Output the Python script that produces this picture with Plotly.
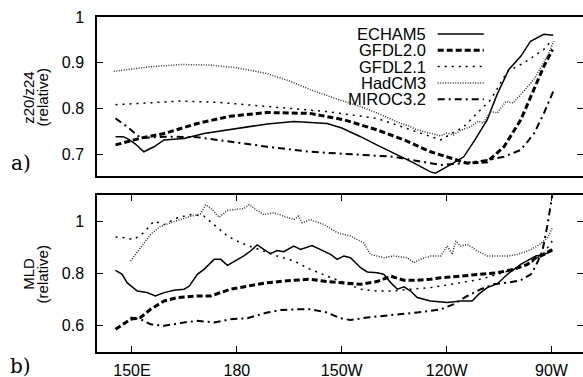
import plotly.graph_objects as go

# ---------------- data (longitude in degrees east, 0-360) ----------------
series_names = ["ECHAM5", "GFDL2.0", "GFDL2.1", "HadCM3", "MIROC3.2"]

# panel a) z20/z24 (relative)
echam5_a_lon = [145.3, 147.5, 149.1, 151.0, 153.4, 156.3, 159.2, 162.0, 164.9, 170.6, 175.0, 180.2,
                188.7, 196.3, 205.8, 210.0, 215.4, 220.0, 224.9, 230.0, 235.4, 236.8, 240.0, 244.9,
                248.0, 251.6, 254.4, 257.8, 261.2, 264.0, 267.8, 270.5]
echam5_a_val = [0.738, 0.738, 0.732, 0.722, 0.705, 0.716, 0.731, 0.733, 0.734, 0.745, 0.750, 0.756,
                0.766, 0.771, 0.767, 0.757, 0.738, 0.720, 0.702, 0.683, 0.661, 0.658, 0.672, 0.694,
                0.730, 0.775, 0.830, 0.885, 0.914, 0.947, 0.962, 0.960]

gfdl20_a_lon = [145.3, 152.5, 159.2, 168.7, 178.2, 188.7, 201.0, 210.6, 220.1, 227.8, 235.4, 242.0,
                245.9, 251.6, 256.4, 261.2, 266.0, 267.8, 270.3]
gfdl20_a_val = [0.720, 0.735, 0.745, 0.767, 0.783, 0.791, 0.789, 0.775, 0.753, 0.731, 0.705, 0.690,
                0.680, 0.683, 0.716, 0.775, 0.863, 0.892, 0.929]

gfdl21_a_lon = [145.3, 155.0, 163.9, 175.0, 188.7, 205.8, 220.1, 229.7, 238.3, 244.9, 252.6, 257.4,
                262.0, 267.8, 269.8]
gfdl21_a_val = [0.808, 0.812, 0.816, 0.813, 0.804, 0.793, 0.778, 0.753, 0.731, 0.760, 0.819, 0.881,
                0.899, 0.929, 0.947]

hadcm3_a_lon = [144.8, 150.0, 155.0, 163.8, 172.0, 180.0, 188.7, 195.0, 201.0, 208.0, 215.4, 221.0,
                226.8, 229.0, 231.0, 233.0, 235.4, 238.3, 240.0, 242.0, 244.0, 246.9, 249.0, 250.5,
                252.6, 254.5, 256.9, 259.0, 261.2, 264.9, 268.8, 270.6]
hadcm3_a_val = [0.881, 0.886, 0.891, 0.896, 0.895, 0.889, 0.876, 0.860, 0.841, 0.822, 0.804, 0.787,
                0.767, 0.762, 0.755, 0.750, 0.745, 0.740, 0.746, 0.742, 0.752, 0.760, 0.772, 0.768,
                0.793, 0.790, 0.815, 0.812, 0.830, 0.863, 0.914, 0.947]

miroc_a_lon = [145.3, 148.6, 152.5, 159.2, 168.7, 178.2, 188.7, 201.0, 215.4, 224.9, 235.4, 238.3,
               244.9, 251.6, 256.4, 261.2, 265.0, 267.8, 270.7]
miroc_a_val = [0.778, 0.760, 0.735, 0.738, 0.737, 0.727, 0.716, 0.705, 0.698, 0.694, 0.680, 0.676,
               0.680, 0.687, 0.694, 0.709, 0.745, 0.789, 0.841]

# panel b) MLD (relative)
echam5_b_lon = [145.3, 147.2, 148.6, 151.5, 154.3, 156.7, 159.2, 162.0, 164.9, 166.4, 168.7, 170.6,
                173.5, 175.4, 177.3, 180.1, 182.0, 183.9, 185.8, 187.7, 189.6, 191.5, 193.4, 196.3,
                198.2, 201.5, 203.9, 206.8, 208.7, 210.6, 212.5, 215.4, 217.3, 220.1, 222.0, 224.0,
                225.9, 227.8, 229.7, 231.6, 235.4, 240.2, 244.0, 247.3, 249.2, 251.6, 254.5, 257.4,
                261.2, 263.1, 265.5, 267.9, 270.2]
echam5_b_val = [0.812, 0.797, 0.765, 0.733, 0.727, 0.714, 0.727, 0.736, 0.740, 0.752, 0.797, 0.816,
                0.854, 0.854, 0.831, 0.854, 0.867, 0.886, 0.909, 0.892, 0.876, 0.888, 0.883, 0.905,
                0.892, 0.907, 0.892, 0.873, 0.854, 0.867, 0.860, 0.822, 0.806, 0.803, 0.797, 0.765,
                0.740, 0.749, 0.733, 0.708, 0.695, 0.689, 0.695, 0.695, 0.721, 0.746, 0.761, 0.797,
                0.835, 0.848, 0.867, 0.873, 0.886]

gfdl20_b_lon = [145.3, 149.6, 152.5, 155.3, 159.2, 163.0, 168.7, 172.5, 178.2, 183.0, 188.7, 196.3,
                201.0, 205.8, 210.6, 215.4, 220.1, 224.0, 227.8, 231.6, 235.4, 238.3, 244.0, 249.8,
                254.5, 259.3, 263.1, 265.5, 267.9, 270.2]
gfdl20_b_val = [0.587, 0.625, 0.632, 0.663, 0.695, 0.708, 0.714, 0.714, 0.740, 0.752, 0.765, 0.774,
                0.778, 0.769, 0.765, 0.759, 0.769, 0.790, 0.774, 0.774, 0.778, 0.784, 0.790, 0.797,
                0.803, 0.816, 0.835, 0.860, 0.873, 0.892]

gfdl21_b_lon = [145.3, 147.7, 150.5, 153.4, 156.3, 159.2, 163.0, 166.8, 170.6, 173.5, 177.3, 181.1,
                184.9, 188.7, 191.5, 196.3, 201.0, 205.8, 210.6, 215.4, 220.1, 224.9, 229.7, 235.4,
                238.3, 244.0, 249.8, 254.5, 259.3, 264.1, 267.9, 270.2]
gfdl21_b_val = [0.939, 0.937, 0.930, 0.956, 1.000, 0.987, 1.013, 1.025, 1.019, 0.987, 0.943, 0.917,
                0.898, 0.879, 0.867, 0.848, 0.816, 0.790, 0.765, 0.740, 0.733, 0.733, 0.740, 0.746,
                0.752, 0.765, 0.778, 0.797, 0.816, 0.841, 0.879, 0.924]

hadcm3_b_lon = [149.6, 152.5, 155.3, 158.2, 161.1, 163.9, 166.8, 169.6, 171.1, 173.0, 174.9, 177.3,
                180.1, 182.0, 183.5, 185.4, 187.7, 190.5, 193.4, 196.3, 197.7, 198.7, 201.0, 204.9,
                208.7, 212.5, 216.3, 218.2, 222.1, 224.9, 228.7, 230.6, 232.5, 235.4, 238.3, 240.2,
                241.6, 242.6, 244.0, 245.9, 248.8, 251.6, 254.5, 257.4, 260.3, 263.1, 266.0, 268.9,
                270.2]
hadcm3_b_val = [0.848, 0.898, 0.949, 0.981, 0.994, 1.006, 1.019, 1.028, 1.063, 1.044, 1.015, 1.041,
                1.044, 1.048, 1.063, 1.044, 1.025, 1.032, 1.019, 1.006, 1.019, 0.994, 1.006, 0.987,
                0.956, 0.943, 0.917, 0.873, 0.860, 0.867, 0.860, 0.841, 0.854, 0.867, 0.867, 0.905,
                0.873, 0.924, 0.905, 0.911, 0.886, 0.867, 0.867, 0.867, 0.873, 0.886, 0.905, 0.937,
                0.975]

miroc_b_lon = [149.6, 152.5, 155.3, 159.2, 164.9, 168.7, 173.5, 178.2, 183.0, 188.7, 192.4, 196.3,
               201.0, 205.8, 209.6, 212.5, 217.3, 222.0, 226.8, 231.6, 235.4, 238.3, 242.1, 245.9,
               249.8, 253.5, 257.4, 261.2, 264.1, 265.5, 267.4, 268.9, 270.2]
miroc_b_val = [0.632, 0.625, 0.606, 0.600, 0.613, 0.619, 0.613, 0.625, 0.629, 0.651, 0.660, 0.663,
               0.663, 0.651, 0.629, 0.622, 0.632, 0.638, 0.642, 0.651, 0.657, 0.663, 0.683, 0.714,
               0.740, 0.759, 0.765, 0.774, 0.797, 0.829, 0.886, 0.990, 1.100]

x_tick_vals = [150, 180, 210, 240, 270]
x_tick_text = ["150E", "180", "150W", "120W", "90W"]
ya_tick_vals = [0.7, 0.8, 0.9, 1.0]
ya_tick_text = ["0.7", "0.8", "0.9", "1"]
yb_tick_vals = [0.6, 0.8, 1.0]
yb_tick_text = ["0.6", "0.8", "1"]

# ---------------- styles ----------------
styles = {
    "ECHAM5":   dict(color="black", width=1.5, dash="solid"),
    "GFDL2.0":  dict(color="black", width=3.0, dash="6px,3px"),
    "GFDL2.1":  dict(color="black", width=1.5, dash="2px,5px"),
    "HadCM3":   dict(color="#333333", width=1.5, dash="1px,1.5px"),
    "MIROC3.2": dict(color="black", width=2.0, dash="7px,4px,2px,4px"),
}

panel_a = {
    "ECHAM5": (echam5_a_lon, echam5_a_val),
    "GFDL2.0": (gfdl20_a_lon, gfdl20_a_val),
    "GFDL2.1": (gfdl21_a_lon, gfdl21_a_val),
    "HadCM3": (hadcm3_a_lon, hadcm3_a_val),
    "MIROC3.2": (miroc_a_lon, miroc_a_val),
}
panel_b = {
    "ECHAM5": (echam5_b_lon, echam5_b_val),
    "GFDL2.0": (gfdl20_b_lon, gfdl20_b_val),
    "GFDL2.1": (gfdl21_b_lon, gfdl21_b_val),
    "HadCM3": (hadcm3_b_lon, hadcm3_b_val),
    "MIROC3.2": (miroc_b_lon, miroc_b_val),
}

fig = go.Figure()
for name in series_names:
    lx, ly = panel_a[name]
    fig.add_trace(go.Scatter(x=lx, y=ly, mode="lines", name=name, line=styles[name],
                             xaxis="x", yaxis="y", showlegend=False, cliponaxis=True))
    lx, ly = panel_b[name]
    fig.add_trace(go.Scatter(x=lx, y=ly, mode="lines", name=name, line=styles[name],
                             xaxis="x2", yaxis="y2", showlegend=False, cliponaxis=True))

FONT = "Liberation Sans, Arial, sans-serif"
axis_common = dict(showline=True, linecolor="black", linewidth=1.5, mirror="ticks",
                   ticks="inside", ticklen=6, tickwidth=1, tickcolor="black",
                   showgrid=False, zeroline=False, automargin=False,
                   tickfont=dict(family=FONT, size=16, color="black"))

xr = [140, 279]
fig.update_layout(
    width=583, height=377,
    margin=dict(l=97, r=0, t=17, b=25, autoexpand=False),
    paper_bgcolor="white", plot_bgcolor="white",
    xaxis=dict(domain=[0, 1], range=xr, anchor="y", showline=True, linecolor="black",
               linewidth=1.5, mirror=True, ticks="", showticklabels=False, automargin=False,
               showgrid=False, zeroline=False, matches="x2"),
    yaxis=dict(domain=[0.5254, 1], range=[0.652, 1.0], anchor="x",
               tickvals=ya_tick_vals, ticktext=ya_tick_text, ticklabelstandoff=8, **axis_common),
    xaxis2=dict(domain=[0, 1], range=xr, anchor="y2",
                tickvals=x_tick_vals, ticktext=x_tick_text, ticklabelstandoff=3, **axis_common),
    yaxis2=dict(domain=[0, 0.4687], range=[0.5, 1.1], anchor="x2",
                tickvals=yb_tick_vals, ticktext=yb_tick_text, ticklabelstandoff=8, **axis_common),
)


def px2x(px):
    return (px - 97) / 485


def py2y(py):
    return (352 - py) / 335


# ---------------- manual legend (text left of sample line) ----------------
legend_rows_py = [34, 50.3, 66.6, 82.9, 99.2]
for name, py in zip(series_names, legend_rows_py):
    fig.add_annotation(xref="paper", yref="paper", x=px2x(427), y=py2y(py), text=name, showarrow=False,
                       xanchor="right", yanchor="middle", height=16, valign="middle",
                       font=dict(family=FONT, size=16.5, color="black"))
    fig.add_shape(type="line", xref="paper", yref="paper", x0=px2x(437), x1=px2x(483),
                  y0=py2y(py), y1=py2y(py), line=styles[name])

# ---------------- axis titles (rotated) & panel labels ----------------
for txt, px, py in [("z20/z24", 28, 97), ("(relative)", 42.5, 97),
                    ("MLD", 28, 274), ("(relative)", 42.5, 274)]:
    fig.add_annotation(xref="paper", yref="paper", x=px2x(px), y=py2y(py), text=txt, showarrow=False,
                       textangle=-90, xanchor="center", yanchor="middle",
                       font=dict(family=FONT, size=15, color="black"))

for lab, py in [("a)", 163), ("b)", 366)]:
    fig.add_annotation(xref="paper", yref="paper", x=px2x(21), y=py2y(py), text=lab, showarrow=False,
                       xanchor="center", yanchor="middle",
                       font=dict(family="DejaVu Serif, Liberation Serif, serif", size=20, color="black"))

fig.write_html("out.html")
